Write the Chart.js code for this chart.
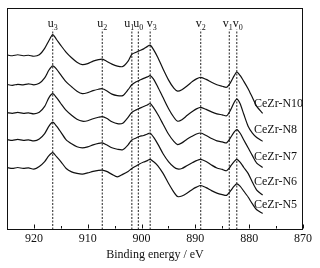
<!DOCTYPE html>
<html>
<head>
<meta charset="utf-8">
<script src="https://cdn.jsdelivr.net/npm/chart.js@4"></script>
<style>
  body { margin: 0; background: #fff; }
</style>
</head>
<body>
<canvas id="myChart" width="320" height="268"></canvas>
<script>
// binding energy (eV) of the sampled points, shared by all spectra
const energy = [925, 924, 923, 922, 921, 920, 919, 918, 917.2, 916.5, 915.8, 915, 914, 913, 912, 911, 910, 909, 908, 907.3,
    906.5, 905.5, 904.5, 903.5, 902.5, 901.8, 901, 900.4, 899.6, 898.9, 898.4, 897.8, 897, 896, 895, 894, 893.3, 892.5, 891.5, 890.5,
    889.8, 889, 888, 887, 886, 885, 884.2, 883.5, 882.8, 882.3, 881.7, 881, 880.2, 879.4, 878.6, 877.5];

// stacked intensities (a.u., offsets included)
const n10 = [177.3, 176.5, 177.5, 176.5, 177, 176, 177.5, 184, 192, 198, 193, 187, 180, 174.5, 170, 167.5, 168.5, 171, 172.5, 173,
    171, 168, 166, 165.5, 171, 178, 180, 181.5, 183.5, 186, 187.3, 183, 175, 163, 152, 143.5, 140.5, 142, 146, 150.5,
    153, 154.5, 152.5, 149.5, 147, 145.5, 144.5, 149, 156, 160, 156.5, 150.5, 143, 134, 125, 118];
const n8 = [147.3, 146.5, 147.5, 147, 148, 147, 148.5, 154, 162, 166.3, 163, 157, 150, 145, 140.5, 138, 139, 141, 142.5, 143,
    141, 137.5, 136, 136, 142, 147, 150, 151.5, 153.5, 155, 156.3, 153, 145, 134, 123, 114, 110, 111.5, 116, 120,
    122.5, 124, 122, 119.5, 117.5, 116.5, 115.5, 121, 129, 132.5, 128, 117, 105, 98, 93.5, 89.7];
const n7 = [118.7, 118, 119, 118, 118.5, 117.5, 119, 125, 134, 138, 134, 128, 121, 116, 112, 110, 110.5, 112.5, 114, 114.7,
    113, 109.5, 107.5, 108, 114, 119, 121.5, 123, 125, 126.5, 128, 124, 117, 107, 97, 89.5, 86.3, 88, 92, 95,
    97, 98, 95.5, 92.5, 90, 89, 88, 93, 99, 101.5, 98, 91, 83, 75, 67.5, 63];
const n6 = [91.3, 90.5, 91.5, 90.5, 91, 90, 92, 97.5, 105, 109, 105, 99, 91, 87, 84, 83, 84, 86, 87.5, 88,
    86, 83, 81.5, 81, 86, 91, 93, 94.5, 95.5, 97, 98, 94, 87, 77, 69, 63.5, 61.5, 62, 65, 68,
    70, 71.3, 69, 65.5, 62.5, 61, 59.7, 64, 69, 71.3, 68.5, 63, 57, 48, 40, 35];
const n5 = [63, 62, 63, 62, 62.5, 61.3, 64, 69, 75, 78, 74, 69, 62, 58.5, 57, 56.3, 57.5, 59, 60, 60.3,
    59, 56, 53.5, 56, 59, 62, 64.5, 66.5, 68.5, 70, 71.3, 69, 65, 57, 47, 38, 33.5, 34, 37, 41,
    43, 44.7, 42.5, 39.5, 37, 35.5, 34.7, 39, 44, 46.3, 44, 39, 33, 26, 20, 16.3];

const sampleNames = ['CeZr-N10', 'CeZr-N8', 'CeZr-N7', 'CeZr-N6', 'CeZr-N5'];

// satellite / peak positions
const peakNames = ['u3', 'u2', 'u1', 'u0', 'v3', 'v2', 'v1', 'v0'];
const peakEnergy = [916.5, 907.3, 901.8, 900.6, 898.4, 889.0, 883.7, 882.3];
const peakLineTop = 203;

const xTicks = [920, 910, 900, 890, 880, 870];

const serif = "'Liberation Serif', 'Times New Roman', serif";

function toPoints(values) {
    return energy.map(function (e, i) {
        return { x: e, y: values[i] };
    });
}

let datasets = [n10, n8, n7, n6, n5].map(function (values, i) {
    return {
        label: sampleNames[i],
        data: toPoints(values),
        borderColor: '#111',
        borderWidth: 1.2,
        pointRadius: 0,
        tension: 0.25
    };
});

peakEnergy.forEach(function (e, i) {
    datasets.push({
        label: peakNames[i],
        data: [{ x: e, y: 0 }, { x: e, y: peakLineTop }],
        borderColor: '#222',
        borderWidth: 1,
        borderDash: [2, 1.5],
        pointRadius: 0
    });
});

// frame, inward ticks and text labels
const decorations = {
    id: 'decorations',
    afterDraw(chart) {
        const ctx = chart.ctx;
        const area = chart.chartArea;
        const xs = chart.scales.x;
        const ys = chart.scales.y;
        ctx.save();
        ctx.strokeStyle = '#111';
        ctx.lineWidth = 1;
        ctx.strokeRect(Math.round(area.left) + 0.5, Math.round(area.top) + 0.5,
            Math.round(area.right - area.left) - 1, Math.round(area.bottom - area.top) - 1);

        ctx.beginPath();
        for (let v = 870; v <= 925; v += 5) {
            const px = Math.round(xs.getPixelForValue(v)) + 0.5;
            const len = (v % 10 === 0) ? 4 : 2.5;
            ctx.moveTo(px, area.bottom - 1);
            ctx.lineTo(px, area.bottom - 1 - len);
        }
        ctx.stroke();

        ctx.fillStyle = '#111';
        // peak labels like u3 -> u + subscript 3
        const shift = [0, 0, -2.5, 0, 1.5, 0, -1.5, 1];
        peakNames.forEach(function (name, i) {
            const cx = xs.getPixelForValue(peakEnergy[i]) + shift[i];
            const base = ys.getPixelForValue(peakLineTop) - 3;
            ctx.font = '12px ' + serif;
            ctx.textBaseline = 'alphabetic';
            const w1 = ctx.measureText(name[0]).width;
            ctx.font = '8px ' + serif;
            const w2 = ctx.measureText(name[1]).width;
            const left = cx - (w1 + w2) / 2;
            ctx.font = '12px ' + serif;
            ctx.fillText(name[0], left, base);
            ctx.font = '8px ' + serif;
            ctx.fillText(name[1], left + w1, base + 3);
        });

        // sample names next to the curve ends
        const labelLevel = [128, 101, 73.5, 48.5, 24.7];
        ctx.font = '12px ' + serif;
        ctx.textBaseline = 'middle';
        ctx.textAlign = 'left';
        sampleNames.forEach(function (name, i) {
            ctx.fillText(name, xs.getPixelForValue(879.1), ys.getPixelForValue(labelLevel[i]));
        });
        ctx.restore();
    }
};

const ctx = document.getElementById('myChart');

new Chart(ctx, {
    type: 'line',
    data: { datasets: datasets },
    options: {
        responsive: false,
        animation: false,
        devicePixelRatio: 1,
        layout: { padding: { left: 7, right: 17, top: 8, bottom: 7.5 } },
        plugins: {
            legend: { display: false },
            tooltip: { enabled: false }
        },
        scales: {
            x: {
                type: 'linear',
                reverse: true,
                min: 870,
                max: 925,
                grid: { display: false, drawTicks: false },
                border: { display: false },
                afterBuildTicks: function (scale) {
                    scale.ticks = xTicks.map(function (v) { return { value: v }; });
                },
                ticks: {
                    padding: 3.5,
                    color: '#111',
                    font: { family: serif, size: 12, lineHeight: 1 }
                },
                title: {
                    display: true,
                    text: 'Binding energy / eV',
                    color: '#111',
                    padding: { top: 0, bottom: 0 },
                    font: { family: serif, size: 12, lineHeight: 1 }
                }
            },
            y: {
                display: false,
                min: 0,
                max: 225
            }
        }
    },
    plugins: [decorations]
});
</script>
</body>
</html>
